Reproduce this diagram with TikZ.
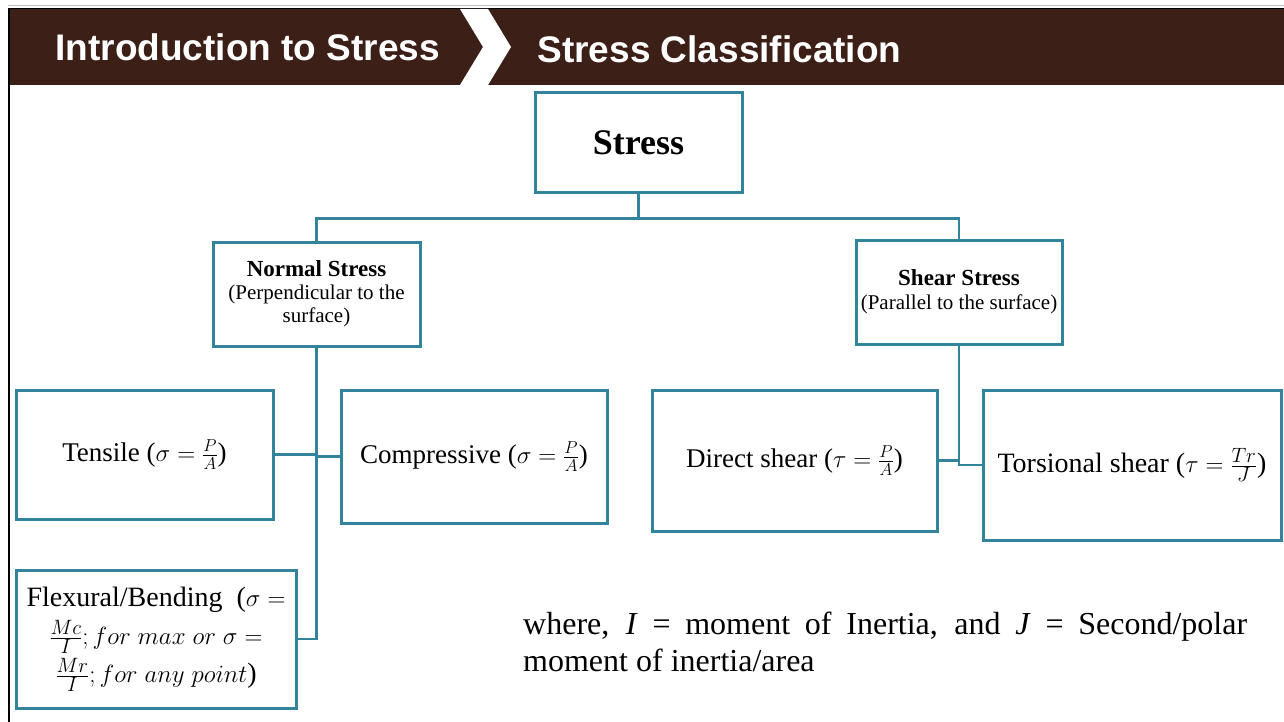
\documentclass[tikz,border=0pt]{standalone}
\usepackage{fontspec}
\setmainfont{Liberation Serif}
\newfontfamily\headfont{Liberation Sans}
\usetikzlibrary{positioning,shadows}
\definecolor{boxcol}{HTML}{31849B}
\definecolor{barcol}{HTML}{3C1F17}
\newcommand{\fsz}[1]{\fontsize{#1}{1.15\dimexpr#1pt\relax}\selectfont}

\begin{document}
\begin{tikzpicture}[x=1pt,y=-1pt,
  stressbox/.style={draw=boxcol, line width=3pt, fill=white, align=center, inner sep=2pt,
    drop shadow={shadow xshift=1.5pt, shadow yshift=-1.5pt, opacity=0.3}},
  link/.style={draw=boxcol, line width=2.4pt}]
\useasboundingbox (0,0) rectangle (1284,722);
% header bar with chevron
\draw[gray!50, line width=1pt] (8,6) -- (1284,6);
\fill[barcol] (8,8) rectangle (1284,85);
\draw[black, line width=1.2pt] (8,8.5) -- (1284,8.5);
\fill[white] (460,9) -- (488,9) -- (511,47) -- (488,85) -- (460,85) -- (483,47) -- cycle;
\draw[black, line width=2pt] (9,8) -- (9,722);
\node[anchor=west, text=white, font=\headfont\bfseries\fsz{37}] (crumbA) at (52,47) {Introduction to Stress};
\node[anchor=west, text=white, font=\headfont\bfseries\fsz{37}] (crumbB) at (534,49) {Stress Classification};

% top level
\node[stressbox, minimum width=207, minimum height=100, font=\bfseries\fsz{36}] (stress) at (638.5,143) {Stress};
\node[stressbox, minimum width=207, minimum height=104, font=\fontsize{21}{23}\selectfont] (normal) at (316.5,294)
  {{\bfseries\fontsize{23}{23}\selectfont Normal Stress}\\(Perpendicular to the\\surface)};
\node[stressbox, minimum width=206, minimum height=104, font=\fontsize{21}{24}\selectfont] (shear) at (959,292)
  {{\bfseries\fontsize{23}{24}\selectfont Shear Stress}\\(Parallel to the surface)};

% normal stress branches
\node[stressbox, minimum width=257, minimum height=129, font=\fsz{27}] (tensile) at (144.5,454.5) {Tensile ($\sigma = \frac{P}{A}$)};
\node[stressbox, minimum width=266, minimum height=133, font=\fsz{27}] (compressive) at (474,456.5) {Compressive ($\sigma = \frac{P}{A}$)};
\node[stressbox, minimum width=280, minimum height=138, font=\fontsize{28}{38}\selectfont, inner sep=0pt] (flexural) at (156,639)
  {Flexural/Bending~ ($\sigma =$\\$\frac{Mc}{I}; for\ max\ or\ \sigma =$\\$\frac{Mr}{I}; for\ any\ point$)};

% shear stress branches
\node[stressbox, minimum width=285, minimum height=141, font=\fsz{27}] (direct) at (794.5,460.5) {Direct shear ($\tau = \frac{P}{A}$)};
\node[stressbox, minimum width=298, minimum height=150, font=\fsz{28}] (torsional) at (1132,465) {Torsional shear ($\tau = \frac{Tr}{J}$)};

% connectors
\coordinate (split) at ([yshift=-24pt]stress.south);
\draw[link] (stress.south) -- (split);
\draw[link] (split) -| (normal.north);
\draw[link] (split) -| (shear.north);
\draw[link] (normal.south) |- (flexural.east);
\draw[link] (tensile.east) -- (tensile.east -| normal.south);
\draw[link] (compressive.west) -- (compressive.west -| normal.south);
\draw[link] (shear.south) |- (torsional.west);
\draw[link] (direct.east) -- (direct.east -| shear.south);

% note
\node[anchor=north west, text width=724, align=justify, inner sep=0pt, font=\fsz{32}] (note) at (523,612)
  {\hyphenpenalty=10000 where, \textit{I} = moment of Inertia, and \textit{J} = Second/polar moment of inertia/area\par};
\end{tikzpicture}
\end{document}
